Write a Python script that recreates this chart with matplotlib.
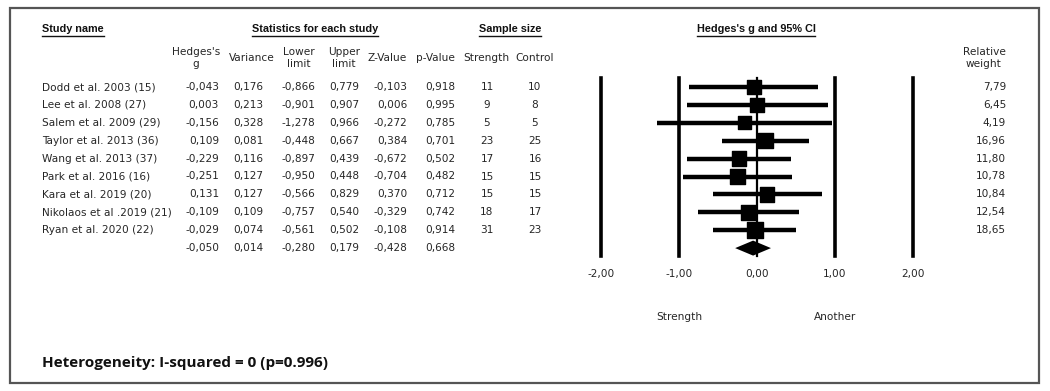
import matplotlib.pyplot as plt
from matplotlib.patches import Rectangle
from matplotlib import transforms

studies = [
    "Dodd et al. 2003 (15)",
    "Lee et al. 2008 (27)",
    "Salem et al. 2009 (29)",
    "Taylor et al. 2013 (36)",
    "Wang et al. 2013 (37)",
    "Park et al. 2016 (16)",
    "Kara et al. 2019 (20)",
    "Nikolaos et al .2019 (21)",
    "Ryan et al. 2020 (22)",
]
hedges_g = [-0.043, 0.003, -0.156, 0.109, -0.229, -0.251, 0.131, -0.109, -0.029]
variance = [0.176, 0.213, 0.328, 0.081, 0.116, 0.127, 0.127, 0.109, 0.074]
lower = [-0.866, -0.901, -1.278, -0.448, -0.897, -0.950, -0.566, -0.757, -0.561]
upper = [0.779, 0.907, 0.966, 0.667, 0.439, 0.448, 0.829, 0.540, 0.502]
z_value = [-0.103, 0.006, -0.272, 0.384, -0.672, -0.704, 0.370, -0.329, -0.108]
p_value = [0.918, 0.995, 0.785, 0.701, 0.502, 0.482, 0.712, 0.742, 0.914]
n_strength = [11, 9, 5, 23, 17, 15, 15, 18, 31]
n_control = [10, 8, 5, 25, 16, 15, 15, 17, 23]
rel_weight = [7.79, 6.45, 4.19, 16.96, 11.80, 10.78, 10.84, 12.54, 18.65]

# pooled estimate
pooled = {"g": -0.050, "var": 0.014, "lo": -0.280, "hi": 0.179, "z": -0.428, "p": 0.668}

x_ticks = [-2, -1, 0, 1, 2]
heterogeneity = "Heterogeneity: I-squared = 0 (p=0.996)"


def fmt(v, nd=3):
    return f"{v:.{nd}f}".replace(".", ",")


W, H = 1050, 391
fig = plt.figure(figsize=(W / 100, H / 100), dpi=100)
plt.rcParams["font.family"] = ["DejaVu Sans"]

# background axes in pixel coordinates for the table text
bg = fig.add_axes([0, 0, 1, 1])
bg.set_xlim(0, W)
bg.set_ylim(H, 0)
bg.axis("off")
bg.add_patch(Rectangle((10, 8), 1029, 375, fill=False, ec="#555555", lw=1.6))

fs = 7.6
fsb = 7.8
col = "#262626"
bold_font = ["Liberation Sans", "DejaVu Sans"]
row0, dy = 87, 17.9


def row_y(i):
    return row0 + dy * i


# group headers (bold, underlined)
group_heads = [("Study name", 42, "left"), ("Statistics for each study", 315, "center"),
               ("Sample size", 510, "center"), ("Hedges's g and 95% CI", 756, "center")]
head_texts = []
for txt, x, ha in group_heads:
    t = bg.text(x, 29, txt, ha=ha, va="center", fontsize=fsb, fontweight="bold",
                color="#111111", family=bold_font)
    head_texts.append(t)

# column headers
col_heads = [("Hedges's\ng", 196, "center"), ("Variance", 252, "center"),
             ("Lower\nlimit", 299, "center"), ("Upper\nlimit", 344, "center"),
             ("Z-Value", 387, "center"), ("p-Value", 435, "center"),
             ("Strength", 486, "center"), ("Control", 535, "center"),
             ("Relative\nweight", 984, "center")]
for txt, x, ha in col_heads:
    bg.text(x, 58, txt, ha=ha, va="center", fontsize=fs, color=col, linespacing=1.2)

# table rows
for i, name in enumerate(studies):
    y = row_y(i)
    bg.text(42, y, name, ha="left", va="center", fontsize=fs, color=col)
    bg.text(219, y, fmt(hedges_g[i]), ha="right", va="center", fontsize=fs, color=col)
    bg.text(263, y, fmt(variance[i]), ha="right", va="center", fontsize=fs, color=col)
    bg.text(315, y, fmt(lower[i]), ha="right", va="center", fontsize=fs, color=col)
    bg.text(359, y, fmt(upper[i]), ha="right", va="center", fontsize=fs, color=col)
    bg.text(407, y, fmt(z_value[i]), ha="right", va="center", fontsize=fs, color=col)
    bg.text(455, y, fmt(p_value[i]), ha="right", va="center", fontsize=fs, color=col)
    bg.text(487, y, str(n_strength[i]), ha="center", va="center", fontsize=fs, color=col)
    bg.text(535, y, str(n_control[i]), ha="center", va="center", fontsize=fs, color=col)
    bg.text(1006, y, fmt(rel_weight[i], 2), ha="right", va="center", fontsize=fs, color=col)

y = row_y(len(studies))
for key, x in [("g", 219), ("var", 263), ("lo", 315), ("hi", 359), ("z", 407), ("p", 455)]:
    bg.text(x, y, fmt(pooled[key]), ha="right", va="center", fontsize=fs, color=col)

bg.text(42, 363, heterogeneity, ha="left", va="center", fontsize=11.0,
        fontweight="bold", color="#111111", family=["Open Sans", "DejaVu Sans"])

# forest plot axes: x -2..2 spans pixels 601..913, lines from y=78 to y=256
top_px, bot_px = 78, 256
ax = fig.add_axes([601 / W, (H - bot_px) / H, 312 / W, (bot_px - top_px) / H])
ax.set_xlim(-2, 2)
ax.set_ylim((bot_px - row0) / dy, (top_px - row0) / dy)
for s in ax.spines.values():
    s.set_visible(False)
ax.set_yticks([])

for v in x_ticks:
    ax.axvline(v, color="black", lw=2.6 if v != 0 else 1.6, clip_on=False)

rows = list(range(len(studies)))
ax.hlines(rows, lower, upper, color="black", lw=3.2)
sizes = [(12.5 + 0.18 * w) * 0.72 for w in rel_weight]
ax.scatter(hedges_g, rows, marker="s", s=[s ** 2 for s in sizes], color="black", zorder=3)

yd = len(studies)
h = 7.5 / dy
ax.fill([pooled["lo"], pooled["g"], pooled["hi"], pooled["g"]],
        [yd, yd - h, yd, yd + h], color="black", lw=0, zorder=3)

ax.set_xticks(x_ticks)
ax.set_xticklabels([fmt(v, 2) for v in x_ticks], fontsize=fs, color=col)
ax.tick_params(axis="x", length=0, pad=9)

blend = transforms.blended_transform_factory(ax.transData, bg.transData)
ax.text(-1, 317, "Strength", transform=blend, ha="center", va="center", fontsize=fs, color=col)
ax.text(1, 317, "Another", transform=blend, ha="center", va="center", fontsize=fs, color=col)

# underline group headers
fig.canvas.draw()
r = fig.canvas.get_renderer()
inv = bg.transData.inverted()
for t in head_texts:
    bb = t.get_window_extent(r)
    (x0, y0), (x1, _) = inv.transform([(bb.x0, bb.y0), (bb.x1, bb.y1)])
    bg.plot([x0, x1], [y0 + 1.5, y0 + 1.5], color="#111111", lw=1.0)

fig.savefig("out.png", dpi=100)
